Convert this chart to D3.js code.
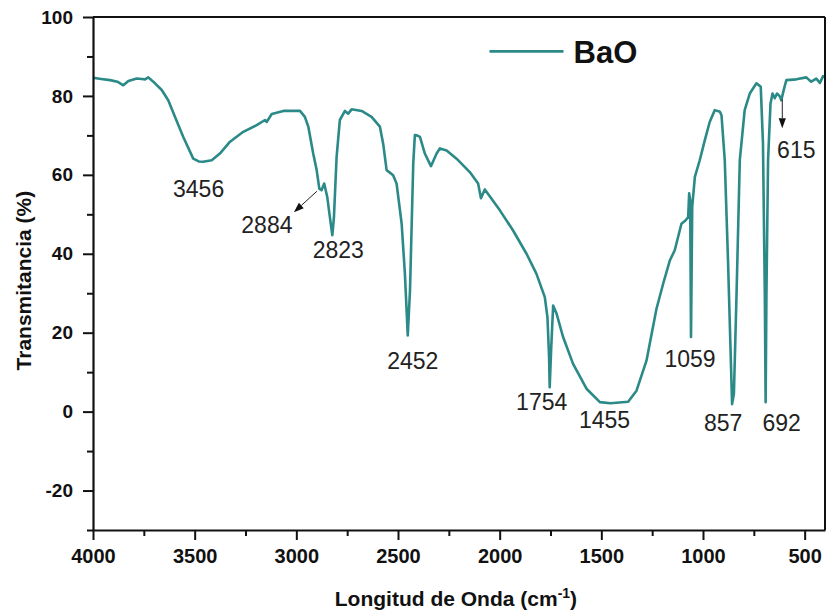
<!DOCTYPE html>
<html>
<head>
<meta charset="utf-8">
<script src="https://cdn.jsdelivr.net/npm/d3@7"></script>
<style>
  html, body { margin: 0; padding: 0; background: #fff; }
  svg { display: block; }
  text { font-family: Arial, "Liberation Sans", Helvetica, sans-serif; }
</style>
</head>
<body>
<svg id="chart" width="827" height="611"></svg>
<script>
// FTIR spectrum of BaO: wavenumber (cm-1) and transmittance (%)
const wavenumber = [
  4000, 3960, 3916, 3880, 3851, 3826, 3785, 3760, 3744, 3728, 3695, 3662, 3630, 3597, 3556,
  3507, 3480, 3458, 3416, 3376, 3326, 3261, 3195, 3154, 3146, 3121, 3064, 2982, 2958, 2941,
  2917, 2900, 2887, 2876, 2863, 2848, 2835, 2823, 2815, 2802, 2786, 2761, 2745, 2728, 2679,
  2630, 2589, 2573, 2556, 2524, 2507, 2482, 2466, 2452, 2441, 2425, 2417, 2407, 2392, 2368,
  2338, 2310, 2294, 2261, 2212, 2147, 2106, 2092, 2073, 1999, 1934, 1868, 1819, 1778, 1765,
  1757, 1754, 1747, 1737, 1720, 1688, 1639, 1573, 1507, 1455, 1368, 1327, 1278, 1229, 1196,
  1163, 1139, 1106, 1085, 1073, 1068, 1063, 1059, 1053, 1040, 1016, 991, 967, 942, 917,
  909, 893, 877, 863, 857, 848, 835, 819, 795, 770, 737, 716, 705, 696, 692,
  688, 680, 668, 658, 647, 636, 622, 615, 601, 590, 541, 492, 468, 443, 425,
  410, 402
];
const transmittance = [
  84.6, 84.3, 84.0, 83.6, 82.7, 83.8, 84.4, 84.3, 84.2, 84.7, 83.2, 81.5, 78.9, 74.7, 69.6,
  64.1, 63.4, 63.3, 63.7, 65.4, 68.4, 70.9, 72.6, 73.9, 73.4, 75.4, 76.2, 76.2, 74.7, 72.2,
  65.4, 61.2, 56.5, 56.1, 57.8, 54.4, 49.3, 44.7, 49.3, 64.5, 73.9, 76.2, 75.5, 76.6, 76.2,
  74.7, 72.2, 67.9, 61.2, 59.9, 57.8, 47.6, 34.9, 19.3, 30.7, 62.9, 70.1, 70.0, 69.6, 65.4,
  62.2, 65.4, 66.7, 66.2, 64.1, 60.7, 57.8, 54.1, 56.3, 51.0, 45.9, 40.0, 34.9, 29.0, 23.9,
  13.8, 6.2, 15.5, 26.9, 24.8, 18.9, 12.1, 5.8, 2.4, 2.1, 2.5, 5.3, 12.9, 26.0, 32.4,
  38.3, 40.9, 47.6, 48.5, 49.3, 55.3, 53.6, 18.9, 51.9, 59.5, 63.7, 68.8, 73.4, 76.4, 76.0,
  75.1, 63.7, 38.3, 12.9, 1.9, 4.5, 29.9, 63.7, 76.4, 80.6, 83.2, 82.3, 67.9, 29.9, 2.4,
  29.9, 63.7, 78.1, 80.6, 79.4, 80.6, 79.9, 78.9, 81.9, 84.0, 84.2, 84.7, 83.6, 84.4, 83.3,
  85.0, 84.8
];

// Labelled bands
const bandLabels = ["3456", "2884", "2823", "2452", "1754", "1455", "1059", "857", "692", "615"];
const bandWavenumber = [3456, 2884, 2823, 2452, 1754, 1455, 1059, 857, 692, 615];
const bandTransmittance = [63.3, 56.1, 44.7, 19.3, 6.2, 2.1, 18.9, 1.9, 2.4, 78.9];

// Axis ticks
const xMajorTicks = [4000, 3500, 3000, 2500, 2000, 1500, 1000, 500];
const xMinorTicks = [3750, 3250, 2750, 2250, 1750, 1250, 750];
const yMajorTicks = [100, 80, 60, 40, 20, 0, -20];
const yMinorTicks = [90, 70, 50, 30, 10, -10, -30];

const seriesName = "BaO";
const xTitle = "Longitud de Onda (cm";
const yTitle = "Transmitancia (%)";

// ---- layout ----
const W = 827, H = 611;
const margin = { top: 17, right: 2, bottom: 81, left: 93 };
const iw = W - margin.left - margin.right;
const ih = H - margin.top - margin.bottom;
const lineColor = "#2b8a87";

const svg = d3.select("#chart");
const g = svg.append("g").attr("transform", `translate(${margin.left},${margin.top})`);

const x = d3.scaleLinear().domain([4000, 400]).range([0, iw]);
const y = d3.scaleLinear().domain([-30, 100]).range([ih, 0]);

const data = wavenumber.map((w, i) => ({ w, t: transmittance[i] }));

// spectrum
g.append("path")
  .datum(data)
  .attr("fill", "none")
  .attr("stroke", lineColor)
  .attr("stroke-width", 2.6)
  .attr("stroke-linejoin", "round")
  .attr("d", d3.line().x(d => x(d.w)).y(d => y(d.t)));

// frame (top and right)
g.append("line").attr("x1", 0).attr("x2", iw).attr("y1", 0).attr("y2", 0)
  .attr("stroke", "#111").attr("stroke-width", 2);
g.append("line").attr("x1", iw).attr("x2", iw).attr("y1", 0).attr("y2", ih)
  .attr("stroke", "#111").attr("stroke-width", 2);

function styleAxis(sel) {
  sel.select(".domain").attr("stroke", "#111").attr("stroke-width", 2.2);
  sel.selectAll(".tick line").attr("stroke", "#111").attr("stroke-width", 2);
  sel.selectAll(".tick text")
    .attr("fill", "#111")
    .style("font-size", "19px")
    .style("font-weight", "bold");
}

// x axis
const gxMinor = g.append("g").attr("transform", `translate(0,${ih})`)
  .call(d3.axisBottom(x).tickValues(xMinorTicks).tickSize(6).tickFormat(""));
gxMinor.select(".domain").remove();
gxMinor.selectAll(".tick line").attr("stroke", "#111").attr("stroke-width", 2);

const gx = g.append("g").attr("transform", `translate(0,${ih})`)
  .call(d3.axisBottom(x).tickValues(xMajorTicks).tickSize(10).tickSizeOuter(0)
    .tickPadding(9).tickFormat(d3.format("d")));
styleAxis(gx);
gx.selectAll(".tick text").style("font-size", "20px");

// y axis
const gyMinor = g.append("g")
  .call(d3.axisLeft(y).tickValues(yMinorTicks).tickSize(6).tickFormat(""));
gyMinor.select(".domain").remove();
gyMinor.selectAll(".tick line").attr("stroke", "#111").attr("stroke-width", 2);

const gy = g.append("g")
  .call(d3.axisLeft(y).tickValues(yMajorTicks).tickSize(10).tickSizeOuter(0)
    .tickPadding(10).tickFormat(d => d < 0 ? "-" + Math.abs(d) : String(d)));
styleAxis(gy);

// axis titles
const xt = svg.append("text")
  .attr("x", margin.left + x(2215))
  .attr("y", 606)
  .attr("text-anchor", "middle")
  .style("font-size", "21px")
  .style("font-weight", "bold")
  .attr("fill", "#111");
xt.append("tspan").text(xTitle);
xt.append("tspan").text("-1").attr("dy", -8).style("font-size", "14px");
xt.append("tspan").text(")").attr("dy", 8);

svg.append("text")
  .attr("transform", `translate(31,${margin.top + y(33.2)}) rotate(-90)`)
  .attr("text-anchor", "middle")
  .style("font-size", "21px")
  .style("font-weight", "bold")
  .attr("fill", "#111")
  .text(yTitle);

// legend
const lg = g.append("g").attr("transform", `translate(${x(2050)},${y(91.3)})`);
lg.append("line").attr("x1", 0).attr("x2", 74).attr("y1", 0).attr("y2", 0)
  .attr("stroke", lineColor).attr("stroke-width", 2.6);
lg.append("text").attr("x", 84).attr("y", 12)
  .style("font-size", "31px").style("font-weight", "bold").attr("fill", "#111")
  .text(seriesName);

// band labels: offsets (px) of the label centre/baseline from the band minimum
const labelOffset = {
  "3456": [-5, 35], "2884": [-53, 43], "2823": [6, 23], "2452": [5, 34],
  "1754": [-8, 23], "1455": [-6, 25], "1059": [-1, 30], "857": [-9, 27],
  "692": [16, 29], "615": [15, 58]
};
bandLabels.forEach((lab, i) => {
  const px = x(bandWavenumber[i]), py = y(bandTransmittance[i]);
  const [dx, dy] = labelOffset[lab];
  g.append("text")
    .attr("x", px + dx).attr("y", py + dy)
    .attr("text-anchor", "middle")
    .style("font-size", "23px")
    .attr("fill", "#222")
    .text(lab);
});

// pointer arrows for the weak bands
function arrow(x1, y1, x2, y2) {
  const ang = Math.atan2(y2 - y1, x2 - x1);
  const L = 10, Wd = 3.6;
  const bx = x2 - L * Math.cos(ang), by = y2 - L * Math.sin(ang);
  g.append("line").attr("x1", x1).attr("y1", y1).attr("x2", bx).attr("y2", by)
    .attr("stroke", "#222").attr("stroke-width", 1);
  const px = -Math.sin(ang) * Wd, py = Math.cos(ang) * Wd;
  g.append("path")
    .attr("d", `M${x2},${y2}L${bx + px},${by + py}L${bx - px},${by - py}Z`)
    .attr("fill", "#111");
}
{
  const i = bandLabels.indexOf("2884");
  const px = x(bandWavenumber[i]), py = y(bandTransmittance[i]);
  arrow(px - 3, py + 1, px - 26, py + 22);
}
{
  const i = bandLabels.indexOf("615");
  const px = x(bandWavenumber[i]), py = y(bandTransmittance[i]);
  arrow(px + 1, py - 1, px + 1, py + 28);
}
</script>
</body>
</html>
